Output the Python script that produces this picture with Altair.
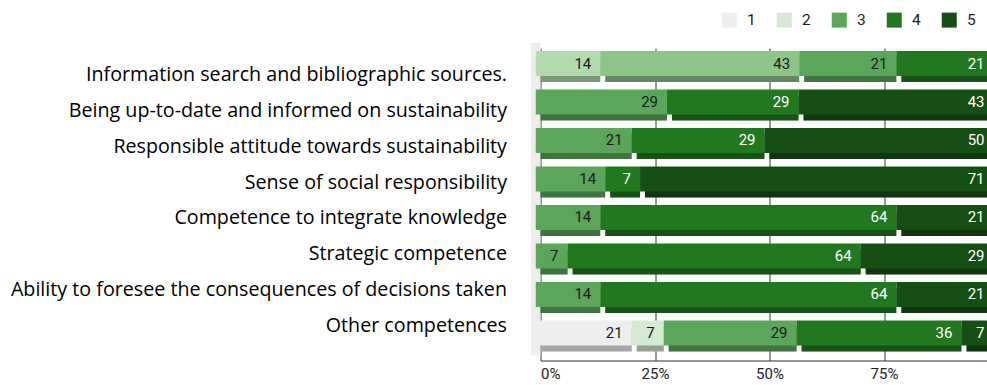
import altair as alt
import pandas as pd

tasks = [
    "Information search and bibliographic sources.",
    "Being up-to-date and informed on sustainability",
    "Responsible attitude towards sustainability",
    "Sense of social responsibility",
    "Competence to integrate knowledge",
    "Strategic competence",
    "Ability to foresee the consequences of decisions taken",
    "Other competences",
]
cats = ["1", "2", "3", "4", "5"]
cat1 = [14, 0, 0, 0, 0, 0, 0, 21]
cat2 = [43, 0, 0, 0, 0, 0, 0, 7]
cat3 = [21, 29, 21, 14, 14, 7, 14, 29]
cat4 = [21, 29, 29, 7, 64, 64, 64, 36]
cat5 = [0, 43, 50, 71, 21, 29, 21, 7]
# first row's two leftmost segments are drawn in lighter tints in the original
tinted = {(0, "1"): "1*", (0, "2"): "2*"}

palette_keys = ["1", "2", "3", "4", "5", "1*", "2*"]
palette = ["#eeeeee", "#d6ead3", "#5ba65a", "#22781f", "#164f13", "#b3d9ae", "#8dc588"]

series = {"1": cat1, "2": cat2, "3": cat3, "4": cat4, "5": cat5}
rows = []
for i, t in enumerate(tasks):
    for c in cats:
        v = series[c][i]
        if v > 0:
            rows.append({"task": t, "cat": int(c), "key": tinted.get((i, c), c), "value": v})
df = pd.DataFrame(rows)
lab_df = pd.DataFrame({"task": tasks})

T, H, W = 43, 312.5, 451.5
LEFT = 535.5

base = alt.Chart(df).transform_joinaggregate(
    total="sum(value)", groupby=["task"]
).transform_window(
    cum="sum(value)", groupby=["task"], sort=[{"field": "cat"}], frame=[None, 0]
).transform_calculate(
    x1="datum.cum / datum.total", x0="(datum.cum - datum.value) / datum.total"
)

yenc = alt.Y("task:N", sort=tasks, axis=None,
             scale=alt.Scale(paddingInner=0.35, paddingOuter=0.234, align=0.444))
xenc = alt.X("x0:Q", title=None,
             scale=alt.Scale(domain=[0, W / 458.0], nice=False, zero=False),
             axis=alt.Axis(values=[0, 0.25, 0.5, 0.75], format=".0%", grid=True,
                           gridColor="#333333", gridWidth=1, domainColor="#333333",
                           ticks=False, labelFont="Roboto", labelFontSize=15,
                           labelColor="#222222", labelPadding=6, translate=5.5))
colenc = alt.Color("key:N", scale=alt.Scale(domain=palette_keys, range=palette),
                   legend=alt.Legend(values=cats, orient="none", legendX=186, legendY=-31,
                                     direction="horizontal", title=None, symbolType="square",
                                     symbolSize=225, symbolStrokeWidth=0, labelFont="Roboto",
                                     labelFontSize=15.5, labelColor="#222222", labelOffset=10,
                                     columnPadding=20, padding=0))

wall = alt.Chart(pd.DataFrame({"a": [0]})).mark_rect(color="#ededed").encode(
    x=alt.value(-4.5), x2=alt.value(5), y=alt.value(0), y2=alt.value(H))

shadow = base.mark_bar(xOffset=5, yOffset=6, clip=True).encode(
    x=xenc, x2="x1:Q", y=yenc, color=colenc)
shade = base.mark_bar(xOffset=5, yOffset=6, clip=True, color="black", opacity=0.3).encode(
    x=xenc, x2="x1:Q", y=yenc, detail="key:N")
face = base.mark_bar(clip=True).encode(x=xenc, x2="x1:Q", y=yenc, color=colenc)
vals = base.mark_text(align="right", baseline="middle", dx=-9, font="Roboto",
                      fontSize=15).encode(
    x=alt.X("x1:Q"), y=yenc, text="value:Q",
    color=alt.condition("datum.cat >= 4", alt.value("white"), alt.value("#1a1a1a")))

main = alt.layer(wall, shadow, shade, face, vals)

rowlabels = alt.Chart(lab_df).mark_text(align="right", baseline="middle", font="Open Sans",
                                        fontSize=19.7, color="#000000").encode(
    y=alt.Y("task:N", sort=tasks, axis=None,
            scale=alt.Scale(type="point", padding=0, range=[75 - T, 326 - T])),
    x=alt.value(-28.5), text="task:N")

chart = alt.layer(main, rowlabels).resolve_scale(y="independent").properties(
    width=W, height=H,
    autosize=alt.AutoSizeParams(type="none"),
    padding={"left": LEFT, "top": T, "right": 0, "bottom": 385 - T - H},
).configure_view(stroke=None)

chart.save("out.html", embed_options={"renderer": "svg", "actions": False})
